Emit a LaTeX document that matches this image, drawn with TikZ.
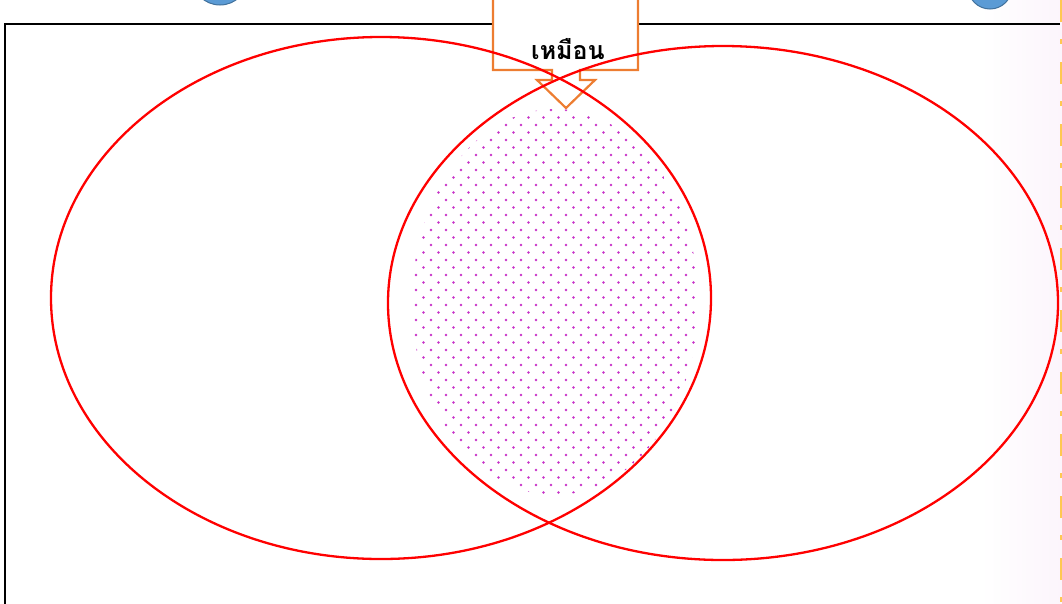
\documentclass[tikz,border=0pt]{standalone}
\usepackage{fontspec}
\newfontfamily\thaifont[Script=Thai]{Loma}
\definecolor{ellred}{RGB}{255,0,0}
\definecolor{calloutorange}{RGB}{237,125,49}
\definecolor{dotmag}{RGB}{200,50,200}
\definecolor{bluefill}{RGB}{91,155,213}
\definecolor{blueedge}{RGB}{65,113,156}
\definecolor{dashyellow}{RGB}{255,200,80}
\definecolor{pinkbg}{RGB}{252,245,252}
\tikzset{
  setellipse/.style={draw=ellred, line width=2.3pt},
  framestyle/.style={draw=black, line width=2.5pt},
  calloutstyle/.style={draw=calloutorange, fill=white, line width=2.2pt},
  bluedot/.style={draw=blueedge, fill=bluefill, line width=1pt},
  patdot/.style={fill=dotmag},
}
\begin{document}
\begin{tikzpicture}[x=1pt,y=-1pt]
\useasboundingbox (0,0) rectangle (1062,603);
% right side faint background
\shade[left color=white, right color=pinkbg] (980,0) rectangle (1062,603);
% blue circles peeking from top
\draw[bluedot] (220,-23) circle (28);
\draw[bluedot] (990,-13) circle (22);
% yellow dashed line at right edge
\draw[dashyellow, line width=2.5pt, dash pattern=on 22pt off 17pt on 5pt off 18pt] (1061,0) -- (1061,603);
% frame
\draw[framestyle] (5,610) -- (5,24) -- (1060,24);
% callout
\path[calloutstyle] (493,-5) -- (493,70) -- (552,70) -- (552,80) -- (537,80) -- (566,108)
  -- (595,80) -- (580,80) -- (580,70) -- (638,70) -- (638,-5) -- cycle;
\node (label) at (568,49) {\thaifont\bfseries\fontsize{25}{29}\selectfont เหมือน};
% dotted intersection
\begin{scope}
  \clip (555,302) ellipse [x radius=143, y radius=193];
  \foreach \i in {0,...,55} {
    \foreach \j in {0,...,22} {
      \pgfmathsetmacro{\xx}{386+15*\j+7.5*mod(\i,2)}
      \pgfmathsetmacro{\yy}{95+7.5*\i}
      \fill[patdot] (\xx,\yy) circle (1.3);
    }
  }
\end{scope}
% two sets
\draw[setellipse] (381,298) ellipse [x radius=330, y radius=261];
\draw[setellipse] (723,303) ellipse [x radius=335, y radius=257];
\end{tikzpicture}
\end{document}
